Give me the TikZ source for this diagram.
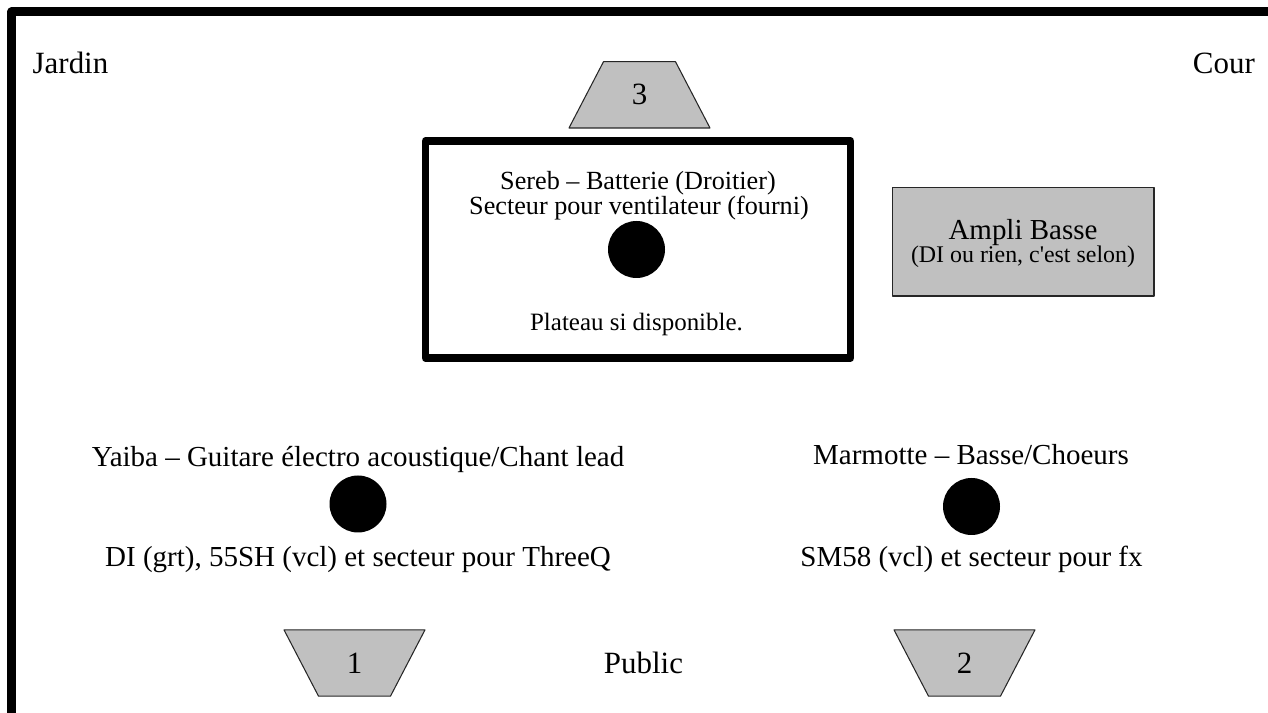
\documentclass[tikz,border=0pt]{standalone}
\usepackage{fontspec}
\newfontfamily\planfont{Liberation Serif}
\definecolor{retourgray}{RGB}{192,192,192}
\begin{document}
\begin{tikzpicture}[line join=round,line cap=round,
	bigtxt/.style={font=\planfont\fontsize{17.6}{20}\selectfont},
	nametxt/.style={font=\planfont\fontsize{16.5}{19}\selectfont,anchor=base},
	smalltxt/.style={font=\planfont\fontsize{14.9}{17}\selectfont,anchor=base},
	spot/.style={circle,fill=black,minimum size=1.14cm,inner sep=0pt},
	retour/.style={fill=retourgray,draw=black!85,line width=0.6pt}]
	\useasboundingbox (0,0) rectangle (25.36,14.26);
	\clip (0,0) rectangle (25.36,14.26);
	% cadre de la scene
	\draw[line width=4.6pt] (0.23,-1)--(0.23,14.03)--(26.5,14.03);
	\node[bigtxt,anchor=base west] (jardin) at (0.53,12.79) {Jardin};
	\node[bigtxt,anchor=base east] (cour) at (25.22,12.79) {Cour};
	% retours
	\foreach \n/\x/\y/\s in {1/7.09/1.0/-1,2/19.29/1.0/-1,3/12.79/12.363/1 %1,2 en bas, 3 en haut
	}{\draw[retour] ({\x-1.41},{\y-0.663*\s})--({\x+1.41},{\y-0.663*\s})--({\x+0.72},{\y+0.663*\s})--({\x-0.72},{\y+0.663*\s})--cycle;
		\node[bigtxt] (mon\n) at (\x,\y) {\n};}
	\node[bigtxt,anchor=base] (public) at (12.87,0.78) {Public};
	% batterie
	\draw[line width=4.3pt] (8.51,11.44) rectangle (17.01,7.10);
	\node[smalltxt] (sereb) at (12.76,10.46) {Sereb – Batterie (Droitier)};
	\node[smalltxt] (serebsect) at (12.78,9.96) {Secteur pour ventilateur (fourni)};
	\node[spot] (serebspot) at (12.73,9.27) {};
	\node[smalltxt,font=\planfont\fontsize{14.2}{17}\selectfont] (plateau) at (12.73,7.65) {Plateau si disponible.};
	% ampli basse
	\draw[retour] (17.85,10.51) rectangle (23.08,8.34);
	\node[nametxt] (ampli) at (20.46,9.46) {Ampli Basse};
	\node[nametxt,font=\planfont\fontsize{13.6}{16}\selectfont] (amplinote) at (20.46,9.00) {(DI ou rien, c'est selon)};
	% musiciens devant
	\node[nametxt] (yaiba) at (7.16,4.93) {Yaiba – Guitare électro acoustique/Chant lead};
	\node[spot] (yaibaspot) at (7.16,4.18) {};
	\node[nametxt] (yaibamic) at (7.16,2.93) {DI (grt), 55SH (vcl) et secteur pour ThreeQ};
	\node[nametxt] (marmotte) at (19.42,4.96) {Marmotte – Basse/Choeurs};
	\node[spot] (marmottespot) at (19.43,4.13) {};
	\node[nametxt] (marmottemic) at (19.43,2.93) {SM58 (vcl) et secteur pour fx};
\end{tikzpicture}
\end{document}
